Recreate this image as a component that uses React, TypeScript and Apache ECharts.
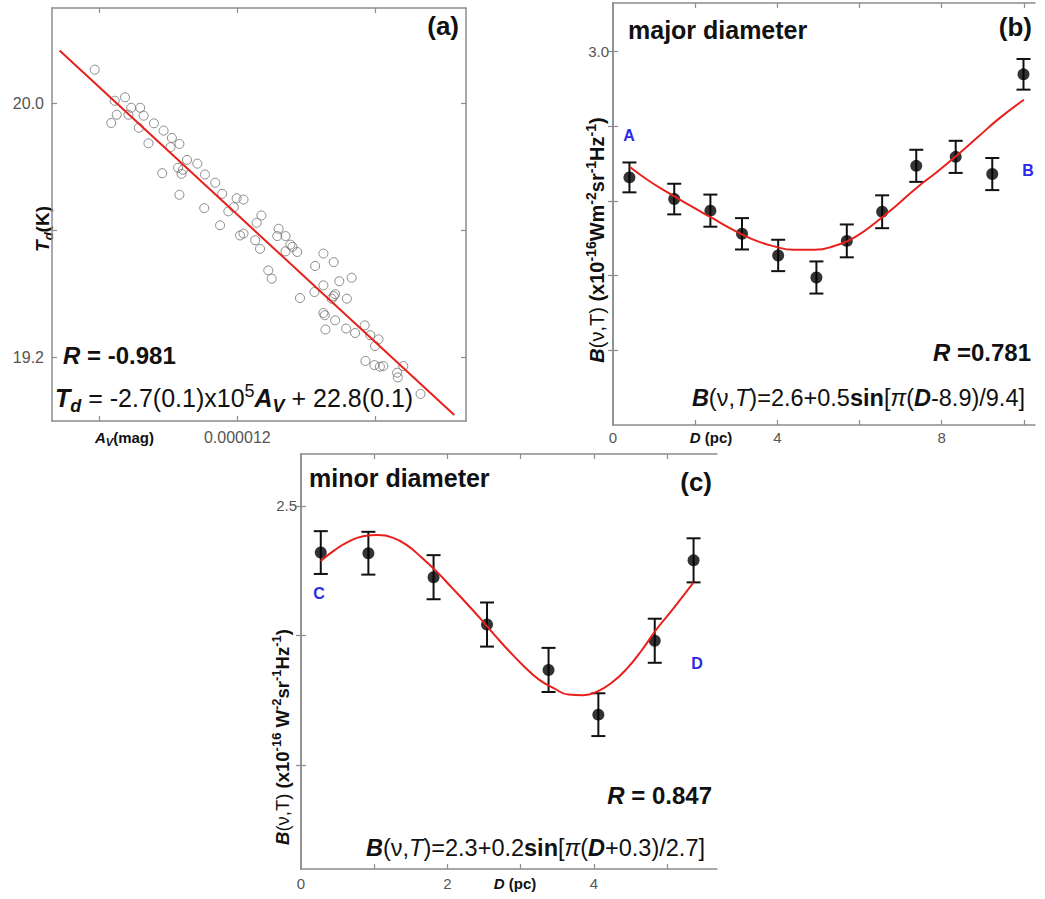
import React, { useEffect, useRef } from "react";
import * as echarts from "echarts";

// ---------- Panel (a): T_d vs A_V ----------
// A_V in units of 1e-6 mag
const avMicro = [
  9.93, 10.37, 10.22, 10.25, 10.17, 10.46, 10.42, 10.59, 10.64, 10.57,
  10.79, 10.93, 11.05, 11.16, 10.71, 11.03, 11.27, 11.42, 11.14, 11.21,
  11.19, 10.91, 11.53, 11.68, 11.78, 11.16, 11.99, 12.09, 11.52, 11.87,
  11.95, 12.35, 12.28, 11.75, 12.04, 12.09, 12.6, 12.7, 12.58, 12.26,
  12.77, 12.8, 12.87, 12.7, 12.33, 12.45, 12.5, 13.25, 13.4, 13.13,
  13.25, 13.37, 13.12, 12.91, 13.66, 13.48, 13.42, 13.4, 13.59, 13.25,
  13.27, 13.42, 13.28, 13.58, 13.71, 13.85, 13.93, 14.05, 14.0, 13.86,
  13.99, 14.07, 14.12, 14.32, 14.33, 14.41, 14.66,
];
const tdK = [
  20.106, 20.019, 20.008, 19.964, 19.938, 19.986, 19.964, 19.986, 19.961, 19.923,
  19.937, 19.914, 19.891, 19.872, 19.874, 19.862, 19.822, 19.81, 19.797, 19.791,
  19.778, 19.78, 19.776, 19.75, 19.715, 19.712, 19.701, 19.697, 19.67, 19.66,
  19.673, 19.647, 19.624, 19.616, 19.584, 19.59, 19.605, 19.582, 19.582, 19.569,
  19.555, 19.548, 19.532, 19.534, 19.542, 19.474, 19.448, 19.527, 19.5, 19.488,
  19.427, 19.385, 19.406, 19.387, 19.451, 19.44, 19.399, 19.393, 19.385, 19.34,
  19.333, 19.317, 19.288, 19.291, 19.277, 19.301, 19.27, 19.257, 19.236, 19.189,
  19.176, 19.171, 19.173, 19.152, 19.137, 19.173, 19.085,
];
const fitAvMicro = [9.42, 15.15];
const fitTd = [20.166, 19.019];
const aXTicks = [10, 12, 14];
const aXLabels = [12];
const aYTicks = [19.2, 19.6, 20.0];
const aYLabels = [19.2, 20.0];

// ---------- Panel (b): major diameter ----------
const majorD = [0.4, 1.49, 2.37, 3.14, 4.02, 4.95, 5.69, 6.55, 7.38, 8.34, 9.23, 9.99];
const majorB = [2.663, 2.605, 2.574, 2.512, 2.454, 2.395, 2.493, 2.571, 2.694, 2.718, 2.672, 2.939];
const majorErr = [0.04, 0.041, 0.043, 0.042, 0.042, 0.043, 0.044, 0.044, 0.043, 0.043, 0.043, 0.041];
const majorFitD = [0.41, 0.9, 1.4, 1.9, 2.4, 2.9, 3.4, 3.9, 4.4, 4.9, 5.4, 5.9, 6.4, 6.9, 7.4, 7.9, 8.4, 8.9, 9.4, 10.0];
const majorFitB = [
  2.691, 2.652, 2.618, 2.586, 2.555, 2.524, 2.497, 2.479, 2.469, 2.469,
  2.48, 2.504, 2.543, 2.588, 2.636, 2.679, 2.725, 2.773, 2.821, 2.871,
];
const bXTicks = [2, 4, 6, 8, 10];
const bXLabels = [0, 4, 8];
const bYTicks = [2.2, 2.4, 2.6, 2.8, 3.0];
const bYLabels = [3.0];

// ---------- Panel (c): minor diameter ----------
const minorD = [0.27, 0.92, 1.81, 2.54, 3.38, 4.06, 4.83, 5.36];
const minorB = [2.428, 2.427, 2.39, 2.317, 2.247, 2.178, 2.292, 2.416];
const minorErr = [0.033, 0.033, 0.034, 0.034, 0.034, 0.033, 0.034, 0.034];
const minorFitD = [
  0.27, 0.45, 0.65, 0.85, 1.05, 1.25, 1.45, 1.65, 1.85, 2.05, 2.25, 2.45, 2.65, 2.85,
  3.05, 3.25, 3.45, 3.65, 3.85, 4.05, 4.25, 4.45, 4.65, 4.85, 5.05, 5.25, 5.36,
];
const minorFitB = [
  2.415, 2.431, 2.445, 2.453, 2.455, 2.451, 2.439, 2.42, 2.399, 2.375, 2.351, 2.326, 2.3, 2.275,
  2.252, 2.232, 2.219, 2.209, 2.208, 2.214, 2.228, 2.249, 2.277, 2.309, 2.337, 2.366, 2.382,
];
const cXTicks = [1, 2, 3, 4, 5];
const cXLabels = [0, 2, 4];
const cYTicks = [2.1, 2.3, 2.5];
const cYLabels = [2.5];

const FF = '"Liberation Sans", Arial, Helvetica, sans-serif';
const AXIS_COLOR = "#8c8c8c";
const LABEL_COLOR = "#555";
const RED = "#e8201c";
const BLUE = "#2b2be6";

function richSet(size: number, color = "#111", supScale = 0.65) {
  const sm = Math.round(size * supScale);
  const base = { fontFamily: FF, fill: color };
  const lh = Math.round(size * 1.3);
  return {
    n: { ...base, fontSize: size, lineHeight: lh },
    b: { ...base, fontSize: size, fontWeight: "bold", lineHeight: lh },
    i: { ...base, fontSize: size, fontStyle: "italic", lineHeight: lh },
    bi: { ...base, fontSize: size, fontWeight: "bold", fontStyle: "italic", lineHeight: lh },
    sub: { ...base, fontSize: sm, fontWeight: "bold", fontStyle: "italic", verticalAlign: "bottom", lineHeight: sm },
    sup: { ...base, fontSize: sm, verticalAlign: "top", lineHeight: sm },
    supb: { ...base, fontSize: sm, fontWeight: "bold", verticalAlign: "top", lineHeight: sm },
    a: { fontFamily: FF, fontSize: size, fontWeight: "bold", fill: BLUE },
  };
}

function txt(x: number, y: number, text: string, rich: any, align = "left", rotation = 0) {
  return {
    type: "text",
    x,
    y,
    rotation,
    silent: true,
    style: {
      text,
      rich,
      textAlign: align,
      textVerticalAlign: "middle",
      fontFamily: FF,
      fontSize: 14,
      fill: "#111",
    },
  };
}

function frameAxes(gridIndex: number, kind: "x" | "y", min: number, max: number, ticks: number[], labels: number[], fmt: (v: number) => string, labelSize: number, margin: number) {
  const line = { show: true, lineStyle: { color: AXIS_COLOR, width: 1.5 } };
  const main: any = {
    type: "value",
    gridIndex,
    position: kind === "x" ? "bottom" : "left",
    min,
    max,
    axisLine: line,
    axisTick: { show: true, inside: true, length: 5, customValues: ticks, lineStyle: { color: AXIS_COLOR, width: 1.2 } },
    axisLabel: {
      show: true,
      customValues: labels,
      formatter: (v: number) => fmt(v),
      color: LABEL_COLOR,
      fontSize: labelSize,
      fontFamily: FF,
      margin,
    },
    splitLine: { show: false },
  };
  const mirror: any = {
    type: "value",
    gridIndex,
    position: kind === "x" ? "top" : "right",
    min,
    max,
    axisLine: line,
    axisTick: { show: true, inside: true, length: 5, customValues: ticks, lineStyle: { color: AXIS_COLOR, width: 1.2 } },
    axisLabel: { show: false },
    splitLine: { show: false },
  };
  return [main, mirror];
}

function errorBarSeries(xAxisIndex: number, yAxisIndex: number, xs: number[], ys: number[], es: number[]) {
  return {
    type: "custom",
    xAxisIndex,
    yAxisIndex,
    clip: false,
    data: xs.map((x, i) => [x, ys[i], es[i]]),
    encode: { x: 0, y: 1 },
    renderItem: (_p: any, api: any) => {
      const x = api.value(0);
      const y = api.value(1);
      const e = api.value(2);
      const top = api.coord([x, y + e]);
      const bot = api.coord([x, y - e]);
      const half = 7;
      const style = { stroke: "#111", lineWidth: 2 };
      return {
        type: "group",
        children: [
          { type: "line", shape: { x1: top[0], y1: top[1], x2: bot[0], y2: bot[1] }, style },
          { type: "line", shape: { x1: top[0] - half, y1: top[1], x2: top[0] + half, y2: top[1] }, style },
          { type: "line", shape: { x1: bot[0] - half, y1: bot[1], x2: bot[0] + half, y2: bot[1] }, style },
        ],
      };
    },
  };
}

export default function App() {
  const ref = useRef<HTMLDivElement>(null);

  useEffect(() => {
    if (!ref.current) return;
    const chart = echarts.init(ref.current, undefined, { renderer: "svg" });

    const ax = frameAxes(0, "x", 9.31, 15.32, aXTicks, aXLabels, (v) => (v / 1e6).toFixed(6), 16, 8);
    const ay = frameAxes(0, "y", 19.0, 20.3, aYTicks, aYLabels, (v) => v.toFixed(1), 16, 8);
    const bx = frameAxes(1, "x", 0, 10.27, bXTicks, bXLabels, (v) => String(Math.round(v)), 15, 5);
    const by = frameAxes(1, "y", 2.0, 3.13, bYTicks, bYLabels, (v) => v.toFixed(1), 15, 4);
    const cx = frameAxes(2, "x", 0, 5.68, cXTicks, cXLabels, (v) => String(Math.round(v)), 15, 7);
    const cy = frameAxes(2, "y", 1.94, 2.58, cYTicks, cYLabels, (v) => v.toFixed(1), 15, 4);

    const r24 = richSet(24);
    const r25 = richSet(25, "#111", 0.7);
    const rForm = richSet(23.5);
    const rAxisName = richSet(20, "#111", 0.72);
    const r15 = richSet(15, "#111", 0.7);
    const r18 = richSet(19, "#111", 0.7);
    const rBlue = richSet(16);

    const graphics: any[] = [
      // panel (a)
      txt(459, 26, "{b|(a)}", richSet(26), "right"),
      txt(63, 355, "{bi|R}{b| = -0.981}", r24, "left"),
      txt(55, 398, "{bi|T}{sub|d}{n| = -2.7(0.1)x10}{sup|5}{bi|A}{sub|V}{n| + 22.8(0.1)}", r25, "left"),
      txt(42, 229, "{bi|T}{sub|d}{b|(K)}", r18, "center", Math.PI / 2),
      txt(95, 437, "{bi|A}{sub|V}{b|(mag)}", r15, "left"),
      // panel (b)
      txt(628, 30, "{b|major diameter}", richSet(25), "left"),
      txt(1032, 27, "{b|(b)}", richSet(26), "right"),
      txt(629, 135, "{a|A}", rBlue, "center"),
      txt(1028, 170, "{a|B}", rBlue, "center"),
      txt(1031, 352, "{bi|R}{b| =0.781}", r24, "right"),
      txt(1025, 398, "{bi|B}{n|(ν,}{i|T}{n|)=2.6+0.5}{b|sin}{n|[}{i|π}{n|(}{bi|D}{n|-8.9)/9.4]}", rForm, "right"),
      txt(597, 240, "{bi|B}{n|(ν,T) }{b|(x10}{supb|-16}{b|Wm}{supb|-2}{b|sr}{supb|-1}{b|Hz}{supb|-1}{b|)}", rAxisName, "center", Math.PI / 2),
      txt(711, 437, "{bi|D}{b| (pc)}", r15, "center"),
      // panel (c)
      txt(309, 478, "{b|minor diameter}", richSet(25), "left"),
      txt(712, 482, "{b|(c)}", richSet(26), "right"),
      txt(319, 593, "{a|C}", rBlue, "center"),
      txt(697, 663, "{a|D}", rBlue, "center"),
      txt(712, 795, "{bi|R}{b| = 0.847}", r24, "right"),
      txt(705, 848, "{bi|B}{n|(ν,}{i|T}{n|)=2.3+0.2}{b|sin}{n|[}{i|π}{n|(}{bi|D}{n|+0.3)/2.7]}", rForm, "right"),
      txt(282, 737, "{bi|B}{n|(ν,T) }{b|(x10}{supb|-16}{b| W}{supb|-2}{b|sr}{supb|-1}{b|Hz}{supb|-1}{b|)}", richSet(18.5, "#111", 0.72), "center", Math.PI / 2),
      txt(515, 883, "{bi|D}{b| (pc)}", r15, "center"),
    ];

    const option: any = {
      animation: false,
      backgroundColor: "#ffffff",
      textStyle: { fontFamily: FF },
      grid: [
        { left: 52, top: 8, width: 414, height: 413 },
        { left: 613, top: 3, width: 422, height: 422 },
        { left: 301, top: 454, width: 416, height: 415 },
      ],
      xAxis: [ax[0], ax[1], bx[0], bx[1], cx[0], cx[1]],
      yAxis: [ay[0], ay[1], by[0], by[1], cy[0], cy[1]],
      series: [
        {
          type: "scatter",
          xAxisIndex: 0,
          yAxisIndex: 0,
          symbol: "circle",
          symbolSize: 9,
          data: avMicro.map((a, i) => [a, tdK[i]]),
          itemStyle: { color: "rgba(255,255,255,0)", borderColor: "#6e6e6e", borderWidth: 1 },
        },
        {
          type: "line",
          xAxisIndex: 0,
          yAxisIndex: 0,
          symbol: "none",
          data: fitAvMicro.map((a, i) => [a, fitTd[i]]),
          lineStyle: { color: RED, width: 2 },
        },
        {
          type: "line",
          xAxisIndex: 2,
          yAxisIndex: 2,
          symbol: "none",
          smooth: 0.5,
          data: majorFitD.map((d, i) => [d, majorFitB[i]]),
          lineStyle: { color: RED, width: 2 },
        },
        errorBarSeries(2, 2, majorD, majorB, majorErr),
        {
          type: "scatter",
          xAxisIndex: 2,
          yAxisIndex: 2,
          symbol: "circle",
          symbolSize: 12,
          data: majorD.map((d, i) => [d, majorB[i]]),
          itemStyle: { color: "#000" },
        },
        {
          type: "line",
          xAxisIndex: 4,
          yAxisIndex: 4,
          symbol: "none",
          smooth: 0.5,
          data: minorFitD.map((d, i) => [d, minorFitB[i]]),
          lineStyle: { color: RED, width: 2 },
        },
        errorBarSeries(4, 4, minorD, minorB, minorErr),
        {
          type: "scatter",
          xAxisIndex: 4,
          yAxisIndex: 4,
          symbol: "circle",
          symbolSize: 12,
          data: minorD.map((d, i) => [d, minorB[i]]),
          itemStyle: { color: "#000" },
        },
      ],
      graphic: graphics,
    };

    chart.setOption(option);
    return () => chart.dispose();
  }, []);

  return (
    <div
      ref={ref}
      style={{ position: "fixed", left: 0, top: 0, width: 1045, height: 899, background: "#fff" }}
    />
  );
}
